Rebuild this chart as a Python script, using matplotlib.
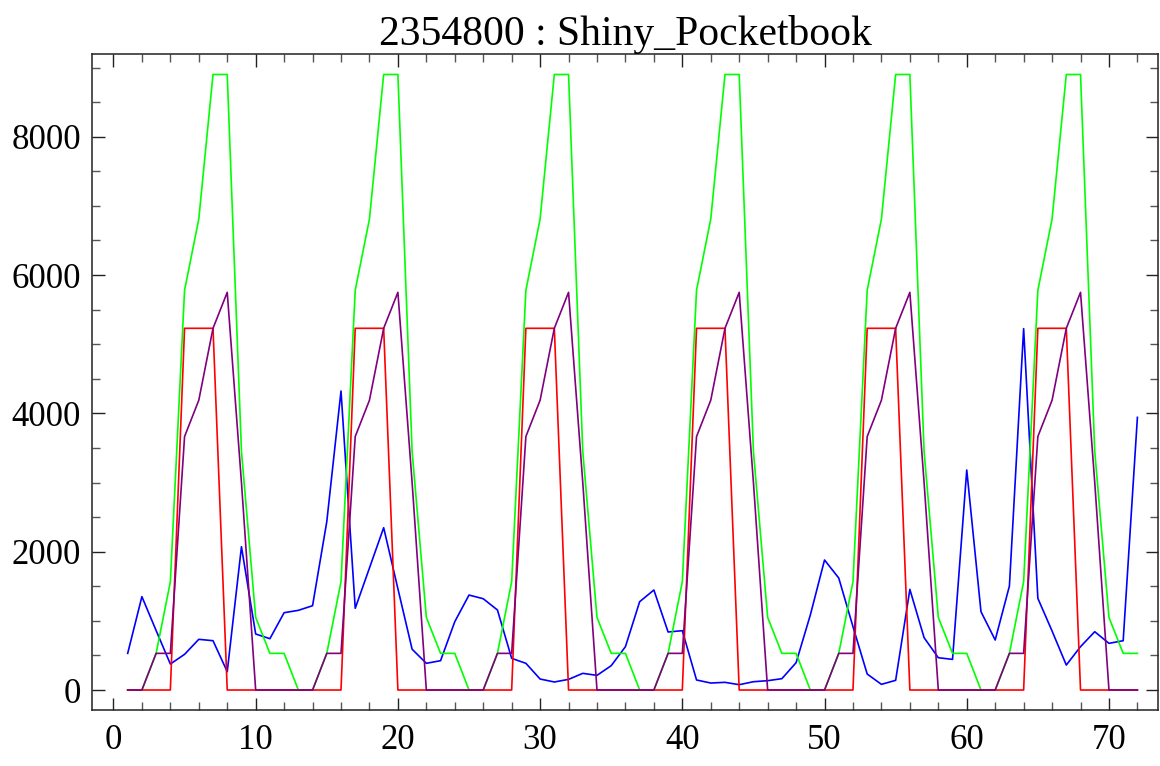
import numpy as np
import matplotlib
matplotlib.use("Agg")
import matplotlib.pyplot as plt
from matplotlib.ticker import MultipleLocator

plt.rcParams['font.family'] = ['Liberation Serif', 'DejaVu Serif']

TITLE = "2354800 : Shiny_Pocketbook"

periods = list(range(1, 73))

blue_vals = [530, 1350, 860, 376, 516, 733, 713, 265, 2072, 810, 742, 1118,
             1152, 1219, 2434, 4323, 1181, 1764, 2347, 1465, 590, 386, 424, 988,
             1373, 1320, 1157, 458, 386, 159, 116, 154, 241, 212, 352, 627,
             1277, 1446, 839, 858, 145, 101, 111, 77, 120, 135, 164, 395,
             1084, 1880, 1619, 916, 231, 82, 140, 1455, 757, 467, 443, 3181,
             1133, 723, 1504, 5225, 1325, 853, 361, 627, 843, 675, 713, 3942]

green_vals = [0, 0, 530, 1565, 5780, 6810, 8900, 8900, 3450, 1050, 530, 530,
              0, 0, 530, 1565, 5780, 6810, 8900, 8900, 3450, 1050, 530, 530,
              0, 0, 530, 1565, 5780, 6810, 8900, 8900, 3450, 1050, 530, 530,
              0, 0, 530, 1565, 5780, 6810, 8900, 8900, 3450, 1050, 530, 530,
              0, 0, 530, 1565, 5780, 6810, 8900, 8900, 3450, 1050, 530, 530,
              0, 0, 530, 1565, 5780, 6810, 8900, 8900, 3450, 1050, 530, 530]

red_vals = [0, 0, 0, 0, 5230, 5230, 5230, 0, 0, 0, 0, 0,
            0, 0, 0, 0, 5230, 5230, 5230, 0, 0, 0, 0, 0,
            0, 0, 0, 0, 5230, 5230, 5230, 0, 0, 0, 0, 0,
            0, 0, 0, 0, 5230, 5230, 5230, 0, 0, 0, 0, 0,
            0, 0, 0, 0, 5230, 5230, 5230, 0, 0, 0, 0, 0,
            0, 0, 0, 0, 5230, 5230, 5230, 0, 0, 0, 0, 0]

purple_vals = [0, 0, 530, 530, 3665, 4190, 5230, 5750, 3000, 0, 0, 0,
               0, 0, 530, 530, 3665, 4190, 5230, 5750, 3000, 0, 0, 0,
               0, 0, 530, 530, 3665, 4190, 5230, 5750, 3000, 0, 0, 0,
               0, 0, 530, 530, 3665, 4190, 5230, 5750, 3000, 0, 0, 0,
               0, 0, 530, 530, 3665, 4190, 5230, 5750, 3000, 0, 0, 0,
               0, 0, 530, 530, 3665, 4190, 5230, 5750, 3000, 0, 0, 0]

fig = plt.figure(figsize=(11.6, 7.66), dpi=100)
ax = fig.add_axes([0.0793, 0.0731, 0.9190, 0.8564])

lw = 1.2
ax.plot(periods, blue_vals, color="#0000ff", lw=lw)
ax.plot(periods, green_vals, color="#00ff00", lw=lw)
ax.plot(periods, red_vals, color="#ff0000", lw=lw)
ax.plot(periods, purple_vals, color="#800080", lw=lw)

ax.set_xlim(-1.51, 73.45)
ax.set_ylim(-289, 9196)

ax.xaxis.set_major_locator(MultipleLocator(10))
ax.xaxis.set_minor_locator(MultipleLocator(2))
ax.yaxis.set_major_locator(MultipleLocator(2000))
ax.yaxis.set_minor_locator(MultipleLocator(500))

ax.tick_params(which="both", direction="in", top=True, right=True,
               labelsize=25)
ax.tick_params(axis="x", pad=10)
ax.tick_params(axis="y", pad=8)
ax.tick_params(which="major", length=9, width=1, color="#222222")
ax.tick_params(which="minor", length=5.5, width=1, color="#555555")
for s in ax.spines.values():
    s.set_linewidth(1.1)
    s.set_color("#222222")

ax.set_title(TITLE, fontsize=30, pad=4)

fig.savefig("out.png", dpi=100)
